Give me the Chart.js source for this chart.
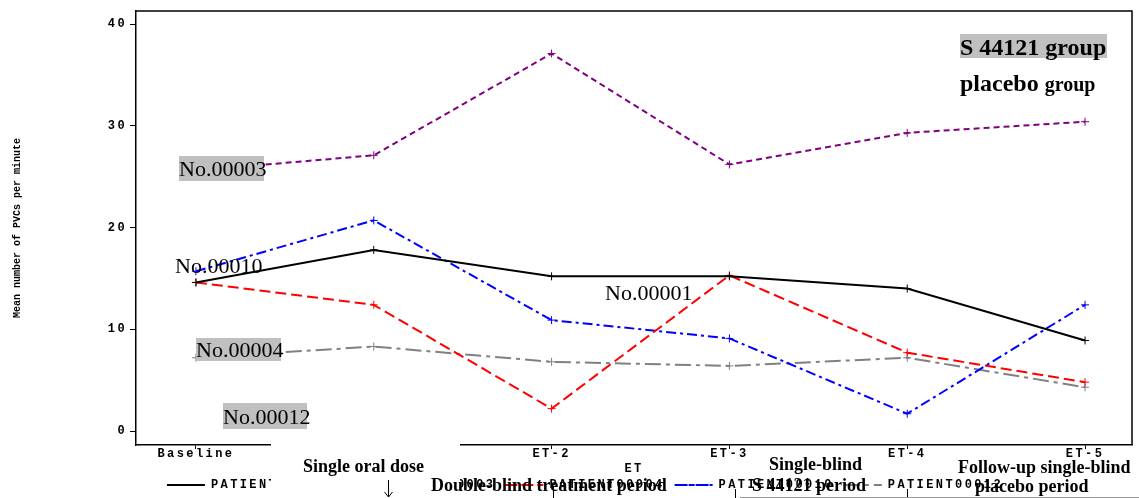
<!DOCTYPE html>
<html>
<head>
<meta charset="utf-8">
<script src="https://cdn.jsdelivr.net/npm/chart.js@4.4.1/dist/chart.umd.min.js"></script>
<style>
  html, body { margin: 0; padding: 0; background: #fff; }
</style>
</head>
<body>
<canvas id="pvc" width="1139" height="498"></canvas>
<script>
// visits on the x axis
const visits = ['Baseline', 'ET-1', 'ET-2', 'ET-3', 'ET-4', 'ET-5'];
const yTicks = [0, 10, 20, 30, 40];

// mean PVCs per minute
const patient00001 = [14.6, 17.8, 15.2, 15.2, 14.0, 8.9];
const patient00003 = [25.6, 27.1, 37.1, 26.2, 29.3, 30.4];
const patient00004 = [14.6, 12.4, 2.2, 15.3, 7.7, 4.8];
const patient00010 = [15.7, 20.7, 10.9, 9.1, 1.7, 12.4];
const patient00012 = [7.2, 8.3, 6.8, 6.4, 7.2, 4.3];

const mono = "'Liberation Mono', 'DejaVu Sans Mono', monospace";
const serif = "'Liberation Serif', 'DejaVu Serif', serif";

function series(label, values, color, dash) {
  return {
    label: label,
    data: values.map((v, i) => ({ x: i, y: v })),
    borderColor: color,
    backgroundColor: color,
    borderWidth: 2,
    borderDash: dash,
    pointStyle: 'cross',
    pointRadius: 4,
    pointBorderWidth: 1,
    tension: 0
  };
}

// spaced out monospace like the original SAS output
const spacing = {
  id: 'spacing',
  beforeLayout(chart) { chart.ctx.letterSpacing = '2.4px'; },
  beforeDraw(chart) { chart.ctx.letterSpacing = '2.4px'; },
  afterLayout(chart) {
    const s = chart.scales.y;
    if (s && !s._plainTitle) {
      const orig = s.drawTitle;
      s.drawTitle = function () {
        this.ctx.save();
        this.ctx.letterSpacing = '0px';
        orig.call(this);
        this.ctx.restore();
      };
      s._plainTitle = true;
    }
  }
};

// frame + the labels that were pasted over the plot
const notes = {
  id: 'notes',
  afterDraw(chart) {
    const ctx = chart.ctx;
    const a = chart.chartArea;
    ctx.save();
    ctx.letterSpacing = '0px';

    ctx.strokeStyle = '#000';
    ctx.lineWidth = 1.5;
    ctx.beginPath();
    ctx.moveTo(a.left, a.top);
    ctx.lineTo(a.right, a.top);
    ctx.lineTo(a.right, a.bottom);
    ctx.stroke();

    // white patch hiding ET-1
    ctx.fillStyle = '#fff';
    ctx.fillRect(271, 438, 189, 60);

    ctx.textBaseline = 'alphabetic';
    ctx.textAlign = 'left';

    function boxed(txt, x, base, bx, by, bw, bh) {
      ctx.fillStyle = '#c0c0c0';
      ctx.fillRect(bx, by, bw, bh);
      ctx.fillStyle = '#000';
      ctx.fillText(txt, x, base);
    }

    ctx.font = '22px ' + serif;
    boxed('No.00003', 179, 176, 179, 156, 85, 25);
    boxed('No.00004', 196, 357, 196, 338, 85, 23);
    boxed('No.00012', 223, 424, 223, 403, 84, 26);
    ctx.fillStyle = '#000';
    ctx.fillText('No.00010', 175, 273);
    ctx.fillText('No.00001', 605, 300);

    ctx.font = 'bold 24px ' + serif;
    boxed('S 44121 group', 960, 55, 960, 34, 147, 24);
    ctx.fillStyle = '#000';
    ctx.fillText('placebo', 960, 91);
    const w = ctx.measureText('placebo ').width;
    ctx.font = 'bold 20px ' + serif;
    ctx.fillText('group', 960 + w, 91);

    ctx.font = 'bold 18px ' + serif;
    ctx.fillText('Single oral dose', 303, 472);
    ctx.fillText('Double-blind treatment period', 431, 491);
    ctx.fillText('Single-blind', 769, 470);
    ctx.fillText('S 44121 period', 752, 491);
    ctx.fillText('Follow-up single-blind', 958, 473);
    ctx.fillText('placebo period', 975, 492);

    // arrow and period markers
    ctx.lineWidth = 1;
    ctx.beginPath();
    ctx.moveTo(388.5, 480); ctx.lineTo(388.5, 497);
    ctx.moveTo(384.5, 492); ctx.lineTo(388.5, 497); ctx.lineTo(392.5, 492);
    ctx.moveTo(553.5, 487); ctx.lineTo(553.5, 498);
    ctx.moveTo(735.5, 489); ctx.lineTo(735.5, 498);
    ctx.moveTo(907.5, 489); ctx.lineTo(907.5, 498);
    ctx.stroke();
    ctx.strokeStyle = '#999';
    ctx.beginPath();
    ctx.moveTo(740, 497.5); ctx.lineTo(1139, 497.5);
    ctx.stroke();
    ctx.restore();
  }
};

new Chart(document.getElementById('pvc'), {
  type: 'line',
  data: {
    datasets: [
      series('PATIENT00001', patient00001, '#000000', []),
      series('PATIENT00003', patient00003, '#800080', [6, 4]),
      series('PATIENT00004', patient00004, '#ff0000', [11, 5]),
      series('PATIENT00010', patient00010, '#0000ff', [10, 4, 3, 4]),
      series('PATIENT00012', patient00012, '#808080', [16, 5, 4, 5])
    ]
  },
  options: {
    responsive: false,
    devicePixelRatio: 1,
    animation: false,
    layout: { padding: { left: 38, right: 7, top: 11, bottom: -3 } },
    plugins: {
      tooltip: { enabled: false },
      legend: {
        position: 'bottom',
        labels: {
          color: '#000',
          font: { family: mono, size: 12, weight: 'bold' },
          boxWidth: 38,
          boxHeight: 0,
          padding: 10
        }
      }
    },
    scales: {
      x: {
        type: 'linear',
        min: -0.337,
        max: 5.264,
        afterFit: s => { s.height = 24; },
        afterBuildTicks: s => { s.ticks = visits.map((v, i) => ({ value: i })); },
        grid: { drawOnChartArea: false, tickLength: 4, color: '#000' },
        border: { color: '#000', width: 1.5 },
        ticks: {
          color: '#000',
          padding: -2,
          maxRotation: 0,
          autoSkip: false,
          font: { family: mono, size: 12, weight: 'bold' },
          callback: v => visits[v]
        },
        title: {
          display: true,
          text: 'ET',
          color: '#000',
          font: { family: mono, size: 12, weight: 'bold' },
          padding: { top: 0, bottom: -7 }
        }
      },
      y: {
        min: -1.375,
        max: 41.28,
        afterFit: s => { s.width = 98; },
        afterBuildTicks: s => { s.ticks = yTicks.map(v => ({ value: v })); },
        grid: { drawOnChartArea: false, tickLength: 6, color: '#000' },
        border: { color: '#000', width: 1.5 },
        ticks: {
          color: '#000',
          padding: 3,
          font: { family: mono, size: 12, weight: 'bold' }
        },
        title: {
          display: true,
          text: 'Mean number of PVCs per minute',
          color: '#000',
          font: { family: mono, size: 10, weight: 'bold' },
          padding: { top: -27, bottom: 0 }
        }
      }
    }
  },
  plugins: [spacing, notes]
});
</script>
</body>
</html>
